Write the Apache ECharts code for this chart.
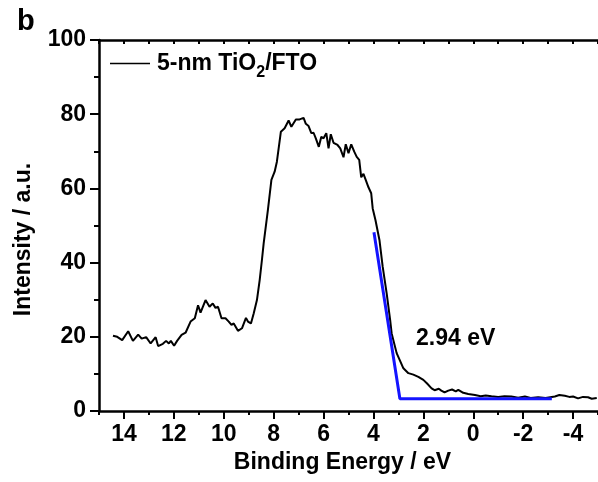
<!DOCTYPE html>
<html>
<head>
<meta charset="utf-8">
<script src="https://cdn.jsdelivr.net/npm/echarts@6/dist/echarts.min.js"></script>
<style>html,body{margin:0;padding:0;background:#fff;}#c{width:598px;height:482px;}</style>
</head>
<body>
<div id="c"></div>
<script>
// Binding energy (eV) and intensity (a.u.)
var energy = [14.44,14.27,14.07,13.83,13.64,13.43,13.29,13.11,12.93,12.73,12.63,12.44,12.31,12.20,12.12,11.99,11.87,11.69,11.53,11.47,11.33,11.16,11.09,11.03,10.93,10.73,10.57,10.44,10.33,10.23,10.09,9.93,9.80,9.69,9.60,9.43,9.27,9.11,9.03,8.91,8.80,8.67,8.56,8.47,8.40,8.23,8.09,7.96,7.87,7.71,7.56,7.40,7.29,7.11,6.96,6.80,6.71,6.60,6.49,6.40,6.31,6.19,6.09,6.00,5.89,5.80,5.71,5.60,5.44,5.33,5.20,5.11,5.00,4.89,4.77,4.67,4.57,4.49,4.40,4.31,4.20,4.09,4.03,3.92,3.76,3.63,3.47,3.33,3.27,3.07,2.95,2.80,2.60,2.40,2.20,2.00,1.85,1.67,1.55,1.47,1.38,1.28,1.15,1.00,0.85,0.70,0.60,0.40,0.20,-0.07,-0.30,-0.50,-0.73,-1.00,-1.25,-1.53,-1.80,-2.07,-2.30,-2.60,-2.90,-3.27,-3.45,-3.67,-3.85,-4.00,-4.20,-4.40,-4.60,-4.75,-4.95];
var intensity = [20.3,20.0,19.1,21.5,18.9,20.6,19.5,19.9,18.2,19.9,17.5,18.1,18.9,18.2,18.9,17.6,18.9,20.5,21.1,20.8,24.1,25.0,25.4,28.5,26.5,29.9,28.1,29.0,27.8,28.1,25.0,25.0,24.1,23.2,23.6,21.6,22.3,25.1,24.1,23.6,26.3,29.9,35.3,40.7,45.2,54.2,62.3,64.5,67.2,75.3,76.2,78.3,76.6,78.6,78.6,79.0,77.4,76.8,74.9,75.0,73.5,71.2,73.9,73.5,74.9,70.8,74.6,72.3,71.7,70.8,68.4,71.9,69.5,71.9,69.9,68.5,67.7,63.0,63.9,62.3,60.3,58.7,54.6,51.5,46.1,38.9,31.7,24.5,20.9,15.6,13.8,11.5,10.2,9.8,9.2,8.4,7.4,6.1,5.6,5.2,6.0,5.5,5.0,5.5,5.8,5.3,5.7,4.9,4.6,4.3,4.0,4.2,4.0,3.8,4.0,3.9,3.6,3.9,3.5,3.7,3.5,3.9,4.3,4.1,3.8,3.9,3.4,3.8,3.7,3.3,3.5];
// Band-edge extrapolation (blue)
var fitEnergy = [3.98, 2.94, -3.15];
var fitIntensity = [48.2, 3.3, 3.3];
var seriesName = '5-nm TiO2/FTO';
var gapLabel = '2.94 eV';
var panelLabel = 'b';
// Tick values
var xMajorTicks = [14,12,10,8,6,4,2,0,-2,-4];
var xMinorTicks = [15,13,11,9,7,5,3,1,-1,-3,-5];
var xTopTicks = [15,14,13,12,11,10,9,8,7,6,5,4,3,2,1,0,-1,-2,-3,-4,-5];

var mainData = energy.map(function(e,i){return [e, intensity[i]];});
var fitData = fitEnergy.map(function(e,i){return [e, fitIntensity[i]];});

var FONT = '"Liberation Sans", Arial, sans-serif';
var FS = 23;
var chart = echarts.init(document.getElementById('c'), null, {renderer:'canvas'});
var xBase = {type:'value', min:-5, max:15, inverse:true, splitLine:{show:false}};
chart.setOption({
  animation:false,
  backgroundColor:'#fff',
  grid:{left:99, right:0, top:40, bottom:71, containLabel:false},
  legend:{
    data:[seriesName], left:110, top:52, padding:0, icon:'rect', itemWidth:40, itemHeight:1.6, itemGap:0,
    itemStyle:{color:'#000'},
    formatter:function(){return '5-nm TiO{sub|2}/FTO';},
    textStyle:{fontFamily:FONT, fontWeight:'bold', fontSize:FS, color:'#000', padding:[0,0,0,2],
      rich:{sub:{fontFamily:FONT, fontWeight:'bold', fontSize:16, color:'#000', padding:[19,0,0,0]}}}
  },
  xAxis:[
    Object.assign({}, xBase, {
      position:'bottom',
      name:'Binding Energy / eV', nameLocation:'middle', nameGap:35,
      nameTextStyle:{fontFamily:FONT, fontWeight:'bold', fontSize:FS, color:'#000', padding:[0,12,0,0]},
      axisLine:{show:true, onZero:false, lineStyle:{color:'#000', width:2.5}},
      axisTick:{show:true, customValues:xMajorTicks, length:8, lineStyle:{color:'#000', width:2}},
      axisLabel:{customValues:xMajorTicks, margin:12, fontFamily:FONT, fontWeight:'bold', fontSize:FS, color:'#000'}
    }),
    Object.assign({}, xBase, {
      position:'bottom',
      axisLine:{show:false},
      axisTick:{show:true, customValues:xMinorTicks, length:4, lineStyle:{color:'#000', width:2}},
      axisLabel:{show:false}
    }),
    Object.assign({}, xBase, {
      position:'top',
      axisLine:{show:true, onZero:false, lineStyle:{color:'#000', width:2.5}},
      axisTick:{show:true, inside:true, customValues:xTopTicks, length:4, lineStyle:{color:'#000', width:2}},
      axisLabel:{show:false}
    })
  ],
  yAxis:{
    type:'value', min:0, max:100, interval:20,
    name:'Intensity / a.u.', nameLocation:'middle', nameGap:64,
    nameTextStyle:{fontFamily:FONT, fontWeight:'bold', fontSize:FS, color:'#000', padding:[0,28,0,0]},
    axisLine:{show:true, onZero:false, lineStyle:{color:'#000', width:2.5}},
    axisTick:{show:true, length:9, lineStyle:{color:'#000', width:2}},
    minorTick:{show:true, splitNumber:2, length:5, lineStyle:{color:'#000', width:2}},
    splitLine:{show:false},
    axisLabel:{margin:13, fontFamily:FONT, fontWeight:'bold', fontSize:FS, color:'#000'}
  },
  series:[
    {name:seriesName, type:'line', xAxisIndex:0, data:mainData, showSymbol:false, symbol:'none',
      lineStyle:{color:'#000', width:2}, itemStyle:{color:'#000'}},
    {name:'fit', type:'line', xAxisIndex:0, data:fitData, showSymbol:false, symbol:'none',
      lineStyle:{color:'#1414ff', width:3}, itemStyle:{color:'#1414ff'}, z:3}
  ],
  graphic:[
    {type:'text', left:17, top:7, style:{text:panelLabel, fontFamily:FONT, fontWeight:'bold', fontSize:29, fill:'#000'}},
    {type:'text', left:416, top:327, style:{text:gapLabel, fontFamily:FONT, fontWeight:'bold', fontSize:FS, fill:'#000'}}
  ]
});
</script>
</body>
</html>
